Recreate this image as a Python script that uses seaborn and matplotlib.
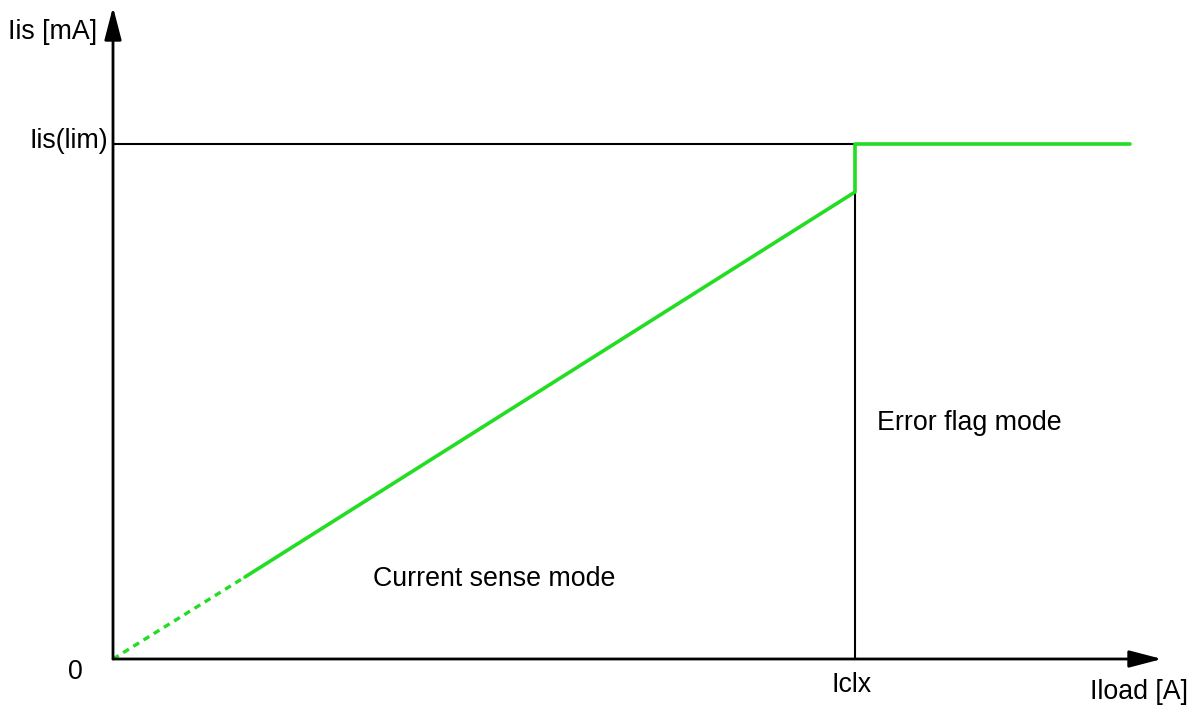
import matplotlib
matplotlib.use('Agg')
import matplotlib.pyplot as plt
import seaborn as sns

# ---- data (units: 1 = 100 px of the reference) ----
iclx = 7.42          # current limit threshold on load axis
iis_lim = 5.15       # sense current limit
x_axis_max = 10.49   # arrow tip of x axis
y_axis_max = 6.52    # arrow tip of y axis

dash_x = [0.0, 1.32]
dash_y = [0.0, 0.82]
solid_x = [1.32, 7.42, 7.42, 10.17]
solid_y = [0.82, 4.67, 5.15, 5.15]

sns.set_style('white')
plt.rcParams['font.family'] = ['Liberation Sans', 'DejaVu Sans']

fig = plt.figure(figsize=(12.04, 7.09), dpi=100)
ax = fig.add_axes([0, 0, 1, 1])
ax.set_xlim(-1.13, 10.91)
ax.set_ylim(-0.50, 6.59)
ax.axis('off')

green = '#22dd22'

# axes with arrows
arrow = dict(arrowstyle='-|>,head_length=1.0,head_width=0.26', mutation_scale=20,
             lw=2, color='black', shrinkA=0, shrinkB=0)
ax.annotate('', xy=(x_axis_max, 0), xytext=(0, 0), arrowprops=arrow)
ax.annotate('', xy=(0, y_axis_max), xytext=(0, 0), arrowprops=arrow)

# reference lines
ax.plot([0, iclx], [iis_lim, iis_lim], color='black', lw=1.5)
ax.plot([iclx, iclx], [0, iis_lim], color='black', lw=1.5)

# sense current curve
sns.lineplot(x=dash_x, y=dash_y, sort=False, estimator=None, ax=ax, color=green,
             lw=2.4, linestyle=(0, (2, 1.6)))
sns.lineplot(x=solid_x, y=solid_y, sort=False, estimator=None, ax=ax, color=green,
             lw=2.6)

fs = 19.3
kw = dict(fontsize=fs, color='black', va='center')
ax.text(-0.16, 6.27, 'Iis [mA]', ha='right', **kw)
ax.text(-0.05, 5.18, 'Iis(lim)', ha='right', **kw)
ax.text(-0.38, -0.13, '0', ha='center', **kw)
ax.text(7.39, -0.26, 'Iclx', ha='center', **kw)
ax.text(10.75, -0.33, 'Iload [A]', ha='right', **kw)
ax.text(7.64, 2.36, 'Error flag mode', ha='left', **kw)
ax.text(2.60, 0.80, 'Current sense mode', ha='left', **kw)

fig.savefig('out.png', dpi=100)
